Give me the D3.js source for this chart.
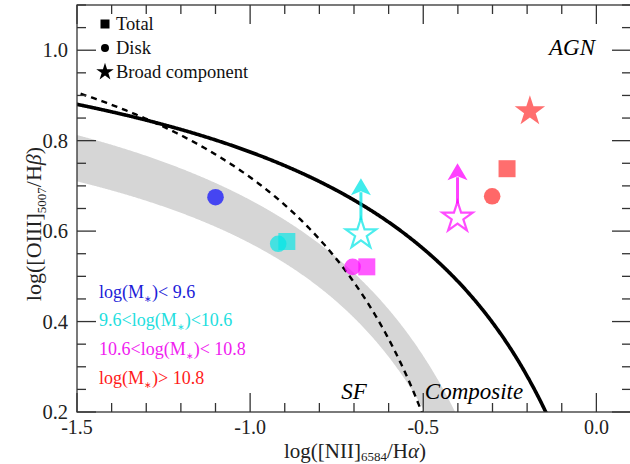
<!DOCTYPE html>
<html>
<head>
<meta charset="utf-8">
<script src="https://cdn.jsdelivr.net/npm/d3@7"></script>
<style>
  body { margin: 0; background: #fff; }
  svg { font-family: "Liberation Serif", serif; }
</style>
</head>
<body>
<div id="chart"></div>
<script>
// mass bins
var groups = ["low", "mid", "high", "top"];
var colors = ["#0000ff", "#00e6e6", "#ff00ff", "#ff2020"];
var labelColors = ["#1c1cd8", "#22dede", "#f020f0", "#ff1a1a"];

// disk (circles)
var diskX = [-1.10, -0.919, -0.704, -0.301];
var diskY = [0.675, 0.572, 0.521, 0.677];
// total (squares), no value for the lowest bin
var totalX = [null, -0.894, -0.663, -0.258];
var totalY = [null, 0.577, 0.521, 0.738];
// broad component (stars), open ones are lower limits
var broadX = [null, -0.680, -0.401, -0.192];
var broadY = [null, 0.593, 0.630, 0.865];
var broadUp = [null, 0.717, 0.750, null];

var xTicks = [-1.5, -1.0, -0.5, 0.0];
var yTicks = [0.2, 0.4, 0.6, 0.8, 1.0];

// demarcation lines
var kewley = { a: 0.61, b: 0.47, c: 1.19 };
var kauffmann = { a: 0.61, b: 0.05, c: 1.30 };
// edges of the grey SF band
var bandUpper = { a: 0.596, b: 0.2125, c: 1.1605 };
var bandLower = { a: 0.4805, b: 0.0976, c: 1.0108 };

var W = 630, H = 464;
var margin = { top: 5, left: 77, bottom: 412, right: 631 };

var svg = d3.select("#chart").append("svg")
    .attr("width", W)
    .attr("height", H);

var x = d3.scaleLinear().domain([-1.5, 0.1]).range([margin.left, margin.right]);
var y = d3.scaleLinear().domain([0.2, 1.1]).range([margin.bottom, margin.top]);

svg.append("clipPath").attr("id", "clip")
  .append("rect")
    .attr("x", margin.left).attr("y", margin.top)
    .attr("width", margin.right - margin.left).attr("height", margin.bottom - margin.top);

var plot = svg.append("g").attr("clip-path", "url(#clip)");

function f(p, v) { return p.a / (v - p.b) + p.c; }
function curve(p, x0, x1) {
  return d3.range(x0, x1, 0.002).map(function(v) { return [v, f(p, v)]; });
}

// grey SF band
var band = d3.area()
    .x(function(d) { return x(d); })
    .y0(function(d) { return y(f(bandLower, d)); })
    .y1(function(d) { return y(f(bandUpper, d)); });
plot.append("path")
    .attr("d", band(d3.range(-1.55, -0.3, 0.002)))
    .attr("fill", "#d6d6d6");

var line = d3.line()
    .x(function(d) { return x(d[0]); })
    .y(function(d) { return y(d[1]); });

plot.append("path")
    .attr("d", line(curve(kauffmann, -1.55, -0.45)))
    .attr("fill", "none")
    .attr("stroke", "#000")
    .attr("stroke-width", 2.4)
    .attr("stroke-dasharray", "6,5");

plot.append("path")
    .attr("d", line(curve(kewley, -1.55, -0.1)))
    .attr("fill", "none")
    .attr("stroke", "#000")
    .attr("stroke-width", 3.6);

// axes, ticks pointing inward
function ticks(vals, major) {
  return vals.map(function(v) { return { v: v, major: major.some(function(m) { return Math.abs(m - v) < 1e-6; }) }; });
}
var xt = ticks(d3.range(-1.5, 0.101, 0.1), xTicks);
var yt = ticks(d3.range(0.2, 1.101, 0.05), yTicks);

var axes = svg.append("g").attr("stroke", "#333").attr("stroke-width", 1.3);
xt.forEach(function(t) {
  var len = t.major ? 19 : 9;
  axes.append("line").attr("x1", x(t.v)).attr("x2", x(t.v)).attr("y1", margin.bottom).attr("y2", margin.bottom - len);
  axes.append("line").attr("x1", x(t.v)).attr("x2", x(t.v)).attr("y1", margin.top).attr("y2", margin.top + len);
});
yt.forEach(function(t) {
  var len = t.major ? 19 : 9;
  axes.append("line").attr("x1", margin.left).attr("x2", margin.left + len).attr("y1", y(t.v)).attr("y2", y(t.v));
  axes.append("line").attr("x1", margin.right).attr("x2", margin.right - len).attr("y1", y(t.v)).attr("y2", y(t.v));
});
axes.append("rect")
    .attr("x", margin.left).attr("y", margin.top)
    .attr("width", margin.right - margin.left).attr("height", margin.bottom - margin.top)
    .attr("fill", "none");

svg.append("g").selectAll("text")
  .data(xTicks).enter().append("text")
    .attr("x", function(d) { return x(d); })
    .attr("y", 434)
    .attr("text-anchor", "middle")
    .attr("font-size", 20)
    .attr("fill", "#222")
    .text(function(d) { return d3.format(".1f")(d).replace("−", "-"); });

svg.append("g").selectAll("text")
  .data(yTicks).enter().append("text")
    .attr("x", 68)
    .attr("y", function(d) { return y(d) + 7; })
    .attr("text-anchor", "end")
    .attr("font-size", 20.5)
    .attr("fill", "#222")
    .text(function(d) { return d3.format(".1f")(d); });

// axis titles
var xl = svg.append("text")
    .attr("x", 355).attr("y", 458)
    .attr("text-anchor", "middle")
    .attr("font-size", 21)
    .attr("fill", "#222");
xl.append("tspan").text("log([NII]");
xl.append("tspan").attr("font-size", 13).attr("dy", 3).text("6584");
xl.append("tspan").attr("dy", -3).text("/H");
xl.append("tspan").attr("font-style", "italic").text("α");
xl.append("tspan").text(")");

var yl = svg.append("text")
    .attr("transform", "translate(41,224) rotate(-90)")
    .attr("text-anchor", "middle")
    .attr("font-size", 22)
    .attr("fill", "#222");
yl.append("tspan").text("log([OIII]");
yl.append("tspan").attr("font-size", 13).attr("dy", 5).text("5007");
yl.append("tspan").attr("dy", -5).text("/H");
yl.append("tspan").attr("font-style", "italic").text("β");
yl.append("tspan").text(")");

// region labels
svg.append("text").attr("x", 572).attr("y", 55).attr("text-anchor", "middle")
    .attr("font-size", 23).attr("font-style", "italic").text("AGN");
svg.append("text").attr("x", 354).attr("y", 399).attr("text-anchor", "middle")
    .attr("font-size", 23).attr("font-style", "italic").text("SF");
svg.append("text").attr("x", 474).attr("y", 399).attr("text-anchor", "middle")
    .attr("font-size", 23).attr("font-style", "italic").text("Composite");

// markers
var starR = 16;
var circle = d3.symbol().type(d3.symbolCircle).size(Math.PI * 8.3 * 8.3);
var square = d3.symbol().type(d3.symbolSquare).size(17 * 17);
var star = d3.symbol().type(d3.symbolStar).size(starR * starR / 0.8908130915);

var marks = svg.append("g");

groups.forEach(function(g, i) {
  if (diskX[i] != null) {
    marks.append("path").attr("d", circle)
        .attr("transform", "translate(" + x(diskX[i]) + "," + y(diskY[i]) + ")")
        .attr("fill", colors[i]).attr("fill-opacity", 0.68);
  }
  if (totalX[i] != null) {
    marks.append("path").attr("d", square)
        .attr("transform", "translate(" + x(totalX[i]) + "," + y(totalY[i]) + ")")
        .attr("fill", colors[i]).attr("fill-opacity", 0.65);
  }
  if (broadX[i] != null) {
    var cx = x(broadX[i]), cy = y(broadY[i]);
    if (broadUp[i] != null) {
      var tip = y(broadUp[i]);
      marks.append("line")
          .attr("x1", cx).attr("x2", cx)
          .attr("y1", cy - starR + 2).attr("y2", tip + 14)
          .attr("stroke", colors[i]).attr("stroke-opacity", 0.75).attr("stroke-width", 3);
      marks.append("path")
          .attr("d", "M" + cx + "," + tip + "L" + (cx + 10) + "," + (tip + 17) + "L" + cx + "," + (tip + 13) + "L" + (cx - 10) + "," + (tip + 17) + "Z")
          .attr("fill", colors[i]).attr("fill-opacity", 0.75);
      marks.append("path").attr("d", star)
          .attr("transform", "translate(" + cx + "," + cy + ")")
          .attr("fill", "none")
          .attr("stroke", colors[i]).attr("stroke-opacity", 0.7).attr("stroke-width", 2.2);
    } else {
      marks.append("path").attr("d", star)
          .attr("transform", "translate(" + cx + "," + cy + ")")
          .attr("fill", colors[i]).attr("fill-opacity", 0.65);
    }
  }
});

// symbol legend
var legendItems = [
  { sym: d3.symbolSquare, size: 81, label: "Total", yy: 24 },
  { sym: d3.symbolCircle, size: 50, label: "Disk", yy: 48 },
  { sym: d3.symbolStar, size: 95, label: "Broad component", yy: 72 }
];
legendItems.forEach(function(d) {
  svg.append("path")
      .attr("d", d3.symbol().type(d.sym).size(d.size))
      .attr("transform", "translate(105," + d.yy + ")")
      .attr("fill", "#000");
  svg.append("text")
      .attr("x", 116).attr("y", d.yy + 6)
      .attr("font-size", 18.5)
      .attr("fill", "#111")
      .text(d.label);
});

// mass legend
var massLabels = [
  ["log(M", ")< 9.6"],
  ["9.6<log(M", ")<10.6"],
  ["10.6<log(M", ")< 10.8"],
  ["log(M", ")> 10.8"]
];
var massY = [292, 320, 349, 378];
massLabels.forEach(function(m, i) {
  var t = svg.append("text")
      .attr("x", 99).attr("y", massY[i] + 6)
      .attr("font-size", 18)
      .attr("fill", labelColors[i]);
  t.append("tspan").text(m[0]);
  t.append("tspan").attr("font-size", 9).attr("dy", 4).text("∗");
  t.append("tspan").attr("dy", -4).text(m[1]);
});
</script>
</body>
</html>
